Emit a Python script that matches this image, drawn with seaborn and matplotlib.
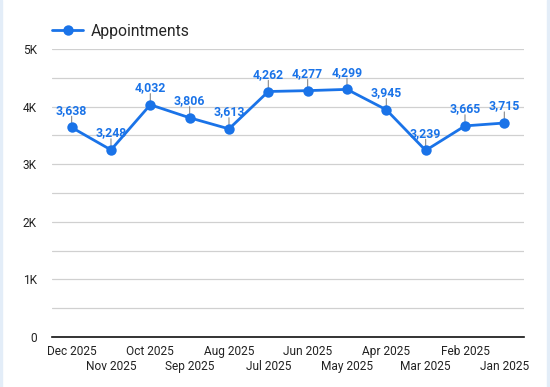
import numpy as np
import pandas as pd
import matplotlib.pyplot as plt
import seaborn as sns
from matplotlib.ticker import FuncFormatter, MultipleLocator
import matplotlib.transforms as mtrans

months = ["Dec 2025", "Nov 2025", "Oct 2025", "Sep 2025", "Aug 2025", "Jul 2025",
          "Jun 2025", "May 2025", "Apr 2025", "Mar 2025", "Feb 2025", "Jan 2025"]
appointments = [3638, 3248, 4032, 3806, 3613, 4262, 4277, 4299, 3945, 3239, 3665, 3715]

blue = "#1a73e8"

sns.set_style("white")
plt.rcParams['font.family'] = ['Roboto', 'DejaVu Sans']

df = pd.DataFrame({"month": months, "value": appointments, "pos": np.arange(len(months))})

fig = plt.figure(figsize=(5.5, 3.87), dpi=100)
fig.patch.set_facecolor("white")
ax = fig.add_axes([0.0945, 0.1292, 0.8582, 0.7442])

# side border strips like the dashboard frame
fig.add_artist(plt.Rectangle((0, 0), 2 / 550, 1, transform=fig.transFigure, color="#e3edf8", zorder=0))
fig.add_artist(plt.Rectangle((547 / 550, 0), 3 / 550, 1, transform=fig.transFigure, color="#e3edf8", zorder=0))

sns.lineplot(data=df, x="pos", y="value", ax=ax, color=blue, lw=2, marker="o",
             markersize=7.5, markeredgewidth=0, label="Appointments", zorder=3)

# data labels with little leader lines
for x, y in zip(df["pos"], df["value"]):
    ax.annotate("", xy=(x, y), xytext=(0, 8), textcoords="offset points", zorder=2,
                arrowprops=dict(arrowstyle="-", color="#888888", lw=0.8, shrinkA=0, shrinkB=0))
    ax.annotate(f"{y:,}", xy=(x, y), xytext=(0, 7.5), textcoords="offset points",
                ha="center", va="bottom", color=blue, fontsize=8.8, fontweight="bold", zorder=4)

ax.set_xlim(-0.5, len(months) - 0.5)
ax.set_ylim(0, 5000)
ax.yaxis.set_major_locator(MultipleLocator(1000))
ax.yaxis.set_minor_locator(MultipleLocator(500))
ax.yaxis.set_major_formatter(FuncFormatter(lambda v, p: "0" if v == 0 else f"{int(v/1000)}K"))
ax.grid(axis="y", which="both", color="#d0d0d0", lw=0.9)
ax.set_axisbelow(True)

# staggered month labels in two rows
ax.set_xticks(df["pos"])
ax.set_xticklabels([])
trans = mtrans.blended_transform_factory(ax.transData, ax.transAxes)
for i, m in enumerate(months):
    yy = -0.049 if i % 2 == 0 else -0.104
    ax.text(i, yy, m, transform=trans, ha="center", va="center", fontsize=8.6, color="#222222")

ax.tick_params(axis="x", length=0)
ax.tick_params(axis="y", length=0, pad=11, labelsize=8.6, colors="#222222")
ax.set_xlabel("")
ax.set_ylabel("")

for s in ["top", "right", "left"]:
    ax.spines[s].set_visible(False)
ax.spines["bottom"].set_color("#111111")
ax.spines["bottom"].set_linewidth(1.2)

leg = ax.legend(loc="lower left", bbox_to_anchor=(0.0, 1.035), frameon=False,
                fontsize=11.3, handlelength=2.0, handletextpad=0.5, borderaxespad=0,
                borderpad=0)

fig.savefig("out.png", dpi=100)
